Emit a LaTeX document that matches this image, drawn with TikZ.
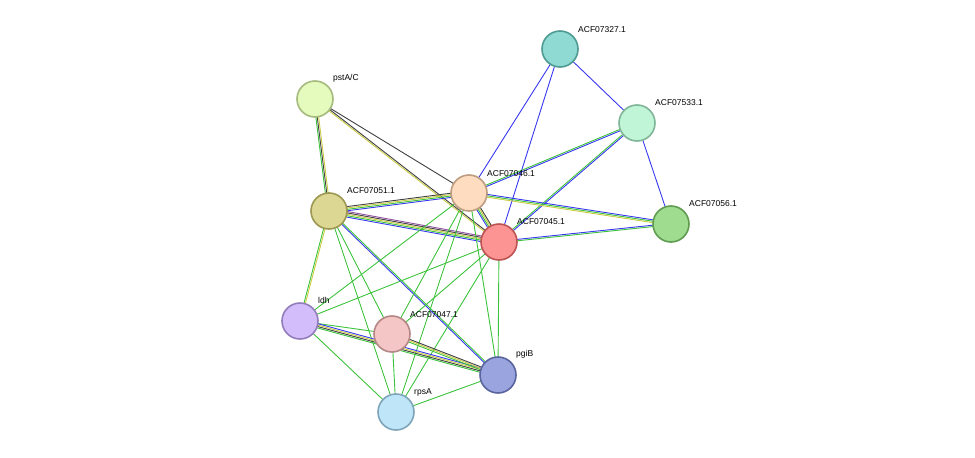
\documentclass[tikz,border=0pt]{standalone}
\usepackage{fontspec}
\setmainfont{Liberation Sans}
\usetikzlibrary{calc}
\definecolor{cgreen}{HTML}{3CC33C}
\definecolor{cblue}{HTML}{3838F0}
\definecolor{cyellow}{HTML}{CCCC44}
\definecolor{cblack}{HTML}{404040}
\definecolor{cpurple}{HTML}{9050A0}
\tikzset{
	prot/.style={circle, minimum size=36pt, inner sep=0pt, line width=1.6pt},
	lab/.style={anchor=south west, inner sep=1pt, font=\fontsize{8.5}{10}\selectfont},
	edge/.style={line width=0.9pt}
}
% parallel coloured links between two nodes
\newcommand{\plink}[3]{%
	\foreach \c [count=\i] in {#3} {\global\let\nlinks\i}%
	\foreach \c [count=\i] in {#3} {%
		\pgfmathsetmacro{\o}{(\i-(\nlinks+1)/2)*1.4}%
		\draw[edge, \c] ($(#1)!\o pt!90:(#2)$) -- ($(#2)!\o pt!-90:(#1)$);
	}}
\begin{document}
\begin{tikzpicture}[x=1pt, y=-1pt]
	\useasboundingbox (0,0) rectangle (975,458);
	
	\coordinate (c327) at (560,49);
	\coordinate (c533) at (637,123);
	\coordinate (c056) at (671,224);
	\coordinate (cpst) at (315,99);
	\coordinate (c046) at (469,193);
	\coordinate (c051) at (329,211);
	\coordinate (c045) at (499,242);
	\coordinate (cldh) at (300,321);
	\coordinate (c047) at (392,334);
	\coordinate (cpgi) at (498,375);
	\coordinate (crps) at (396,412);
	
	% links
	\plink{c327}{c046}{cblue}
	\plink{c327}{c045}{cblue}
	\plink{c327}{c533}{cblue}
	\plink{c533}{c056}{cblue}
	\plink{c533}{c046}{cgreen,cblue}
	\plink{c533}{c045}{cgreen,cblue}
	\plink{c046}{c056}{cyellow,cgreen,cblue}
	\plink{c045}{c056}{cgreen,cblue}
	\plink{cpst}{c051}{cgreen,cblack,cyellow}
	\plink{cpst}{c046}{cblack}
	\plink{cpst}{c045}{cyellow,cblack}
	\plink{c051}{c046}{cblue,cgreen,cyellow,cblack}
	\plink{c051}{c045}{cblue,cgreen,cyellow,cblack,cpurple}
	\plink{c046}{c045}{cblue,cgreen,cyellow,cblack}
	\plink{c051}{cldh}{cgreen,cyellow}
	\plink{c051}{c047}{cgreen}
	\plink{c051}{crps}{cgreen}
	\plink{c051}{cpgi}{cblue,cgreen}
	\plink{c046}{cldh}{cgreen}
	\plink{c046}{c047}{cgreen}
	\plink{c046}{crps}{cgreen}
	\plink{c046}{cpgi}{cgreen}
	\plink{c045}{cldh}{cgreen}
	\plink{c045}{c047}{cgreen}
	\plink{c045}{crps}{cgreen}
	\plink{c045}{cpgi}{cgreen}
	\plink{cldh}{c047}{cgreen}
	\plink{cldh}{cpgi}{cgreen,cblack,cyellow,cblue}
	\plink{cldh}{crps}{cgreen}
	\plink{c047}{cpgi}{cgreen,cyellow,cblack}
	\plink{c047}{crps}{cgreen}
	\plink{crps}{cpgi}{cgreen}
	
	% proteins
	\node[prot, fill={rgb,255:red,143;green,218;blue,211}, draw={rgb,255:red,79;green,154;blue,147}] (n327) at (c327) {};
	\node[prot, fill={rgb,255:red,192;green,245;blue,216}, draw={rgb,255:red,128;green,181;blue,152}] (n533) at (c533) {};
	\node[prot, fill={rgb,255:red,160;green,220;blue,144}, draw={rgb,255:red,96;green,156;blue,80}] (n056) at (c056) {};
	\node[prot, fill={rgb,255:red,229;green,251;blue,189}, draw={rgb,255:red,165;green,187;blue,125}] (npst) at (cpst) {};
	\node[prot, fill={rgb,255:red,253;green,220;blue,191}, draw={rgb,255:red,189;green,156;blue,127}] (n046) at (c046) {};
	\node[prot, fill={rgb,255:red,220;green,216;blue,148}, draw={rgb,255:red,156;green,152;blue,84}] (n051) at (c051) {};
	\node[prot, fill={rgb,255:red,252;green,148;blue,147}, draw={rgb,255:red,188;green,84;blue,83}] (n045) at (c045) {};
	\node[prot, fill={rgb,255:red,212;green,189;blue,251}, draw={rgb,255:red,148;green,125;blue,187}] (nldh) at (cldh) {};
	\node[prot, fill={rgb,255:red,245;green,198;blue,198}, draw={rgb,255:red,181;green,134;blue,134}] (n047) at (c047) {};
	\node[prot, fill={rgb,255:red,154;green,165;blue,224}, draw={rgb,255:red,90;green,101;blue,160}] (npgi) at (cpgi) {};
	\node[prot, fill={rgb,255:red,191;green,229;blue,248}, draw={rgb,255:red,127;green,165;blue,184}] (nrps) at (crps) {};
	
	% labels
	\node[lab] (l327) at (577,34) {ACF07327.1};
	\node[lab] (l533) at (654,107) {ACF07533.1};
	\node[lab] (l056) at (688,208) {ACF07056.1};
	\node[lab] (lpst) at (332,83) {pstA/C};
	\node[lab] (l046) at (486,178) {ACF07046.1};
	\node[lab] (l051) at (346,195) {ACF07051.1};
	\node[lab] (l045) at (516,226) {ACF07045.1};
	\node[lab] (lldh) at (317,305) {ldh};
	\node[lab] (l047) at (409,319) {ACF07047.1};
	\node[lab] (lpgi) at (515,359) {pgiB};
	\node[lab] (lrps) at (413,397) {rpsA};
\end{tikzpicture}
\end{document}
